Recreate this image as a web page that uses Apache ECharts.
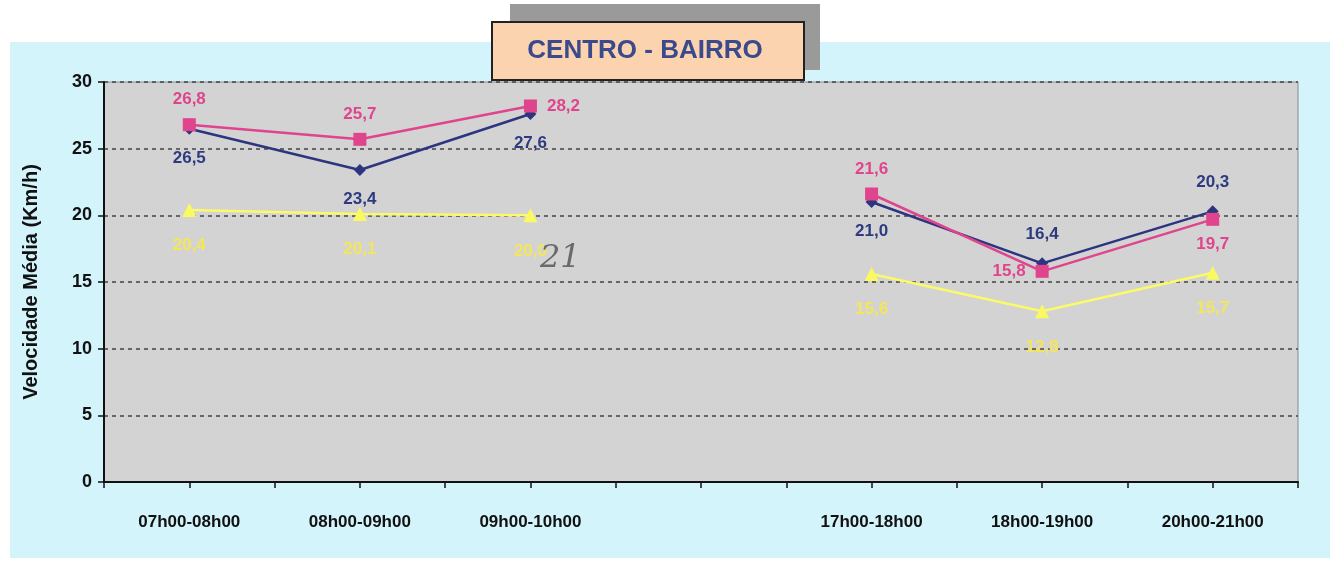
<!DOCTYPE html>
<html>
<head>
<meta charset="utf-8">
<script src="https://cdn.jsdelivr.net/npm/echarts@6/dist/echarts.min.js"></script>
<style>
html,body{margin:0;padding:0;background:#ffffff;}
#chart{width:1333px;height:574px;}
</style>
</head>
<body>
<div id="chart"></div>
<script>
const categories = ['07h00-08h00','08h00-09h00','09h00-10h00','','17h00-18h00','18h00-19h00','20h00-21h00'];
const navySeries = [26.5, 23.4, 27.6, null, 21.0, 16.4, 20.3];
const pinkSeries = [26.8, 25.7, 28.2, null, 21.6, 15.8, 19.7];
const yellowSeries = [20.4, 20.1, 20.0, null, 15.6, 12.8, 15.7];
const navyLabelPos = ['bottom','bottom','bottom','bottom','bottom','top','top'];
const pinkLabelPos = ['top','top','right','top','top','left','bottom'];
const yTicks = [0, 5, 10, 15, 20, 25, 30];

const chart = echarts.init(document.getElementById('chart'));
const fmt = p => p.value == null ? '' : p.value.toFixed(1).replace('.', ',');
const lblFont = {fontFamily:'Liberation Sans', fontWeight:'bold', fontSize:17};

function mkData(vals, positions) {
  return vals.map((v, i) => {
    const d = {value: v};
    if (positions) d.label = {position: positions[i]};
    return d;
  });
}

const option = {
  backgroundColor: '#ffffff',
  animation: false,
  graphic: [
    {type:'rect', z:-10, shape:{x:10, y:42, width:1320, height:516}, style:{fill:'#d4f4fb'}},
    {type:'rect', z:1, shape:{x:510, y:4, width:310, height:66}, style:{fill:'#9a9a9a'}},
    {type:'rect', z:2, shape:{x:492, y:22, width:312, height:58}, style:{fill:'#fbd3ae', stroke:'#222', lineWidth:2}},
    {type:'text', z:3, style:{x:645, y:51, text:'CENTRO - BAIRRO', fill:'#3b4a8c', font:'bold 26px "Liberation Sans"', textAlign:'center', textVerticalAlign:'middle'}},
    {type:'text', z:20, style:{x:540, y:243, text:'21', fill:'#6a6a6a', font:'italic 32px "DejaVu Serif"'}}
  ],
  grid: {left:104, right:35, top:82, bottom:92, show:true, backgroundColor:'#d3d3d3', borderColor:'#8a8a8a', borderWidth:1},
  xAxis: [
    {
      type:'category', data:categories, boundaryGap:true,
      axisLine:{lineStyle:{color:'#111', width:2}},
      axisTick:{show:true, alignWithLabel:false, length:6, lineStyle:{color:'#111', width:1.5}},
      axisLabel:{color:'#111', fontFamily:'Liberation Sans', fontWeight:'bold', fontSize:17, margin:32, interval:0}
    },
    {
      type:'category', data:categories, boundaryGap:true, position:'bottom',
      axisLine:{show:false},
      axisTick:{show:true, alignWithLabel:true, length:6, lineStyle:{color:'#111', width:1.5}},
      axisLabel:{show:false}
    }
  ],
  yAxis: {
    type:'value', min:0, max:30, interval:5,
    name:'Velocidade Média (Km/h)', nameLocation:'middle', nameGap:63, nameRotate:90,
    nameTextStyle:{color:'#111', fontFamily:'Liberation Sans', fontWeight:'bold', fontSize:20},
    axisLine:{show:true, lineStyle:{color:'#111', width:2}},
    axisTick:{show:true, length:6, lineStyle:{color:'#111', width:1.5}},
    axisLabel:{color:'#111', fontFamily:'Liberation Sans', fontWeight:'bold', fontSize:18, margin:12,
      formatter: v => yTicks.includes(v) ? String(v) : ''},
    splitLine:{show:true, lineStyle:{color:'#444', type:[4,4], width:1.5}}
  },
  series: [
    {
      name:'navy', type:'line', data:mkData(navySeries, navyLabelPos), connectNulls:false,
      symbol:'diamond', symbolSize:12,
      lineStyle:{color:'#2d3580', width:2.5}, itemStyle:{color:'#2d3580'},
      label:{show:true, formatter:fmt, color:'#2d3a80', distance:15, ...lblFont}
    },
    {
      name:'pink', type:'line', data:mkData(pinkSeries, pinkLabelPos), connectNulls:false,
      symbol:'rect', symbolSize:13,
      lineStyle:{color:'#e0448c', width:2.5}, itemStyle:{color:'#e0448c'},
      label:{show:true, formatter:fmt, color:'#e0448c', distance:10, ...lblFont}
    },
    {
      name:'yellow', type:'line', data:mkData(yellowSeries, null), connectNulls:false,
      symbol:'triangle', symbolSize:14,
      lineStyle:{color:'#fafa6a', width:2.5}, itemStyle:{color:'#fafa60'},
      label:{show:true, position:'bottom', formatter:fmt, color:'#f4e65a', distance:20, ...lblFont}
    }
  ]
};
chart.setOption(option);
</script>
</body>
</html>
